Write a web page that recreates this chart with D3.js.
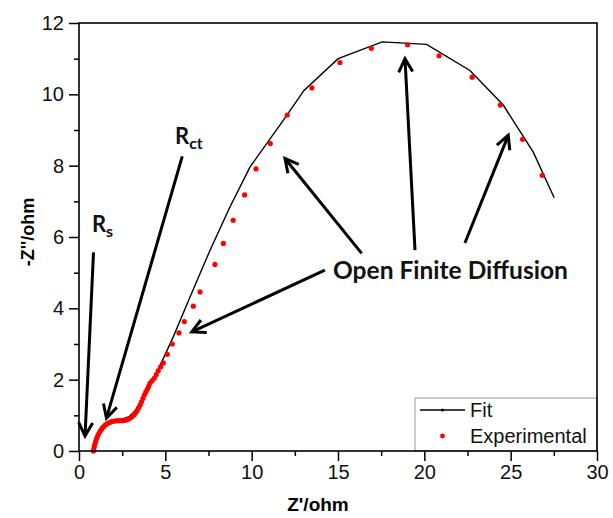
<!DOCTYPE html>
<html>
<head>
<meta charset="utf-8">
<script src="https://cdn.jsdelivr.net/npm/d3@7/dist/d3.min.js"></script>
<style>
  html, body { margin: 0; padding: 0; background: #fff; }
  svg { display: block; }
</style>
</head>
<body>
<svg id="chart" width="613" height="518"></svg>
<script>
// Nyquist plot: experimental impedance and equivalent-circuit fit

// Experimental data, Z' (ohm)
const expZre = [
  0.83, 0.86, 0.89, 0.93, 0.97, 1.02, 1.08, 1.15, 1.23, 1.32, 1.42, 1.53, 1.65, 1.78, 1.92,
  2.07, 2.22, 2.37, 2.52, 2.66, 2.80, 2.93, 3.05, 3.16, 3.26, 3.36, 3.45, 3.54, 3.62, 3.70,
  3.78, 3.87, 3.95, 4.03, 4.11, 4.23, 4.36, 4.47, 4.59, 4.73, 4.88, 5.11, 5.40, 5.79, 6.10,
  6.62, 7.01, 7.87, 8.36, 8.93, 9.59, 10.25, 11.08, 12.06, 13.49, 15.11, 16.93, 19.03, 20.85,
  22.77, 24.40, 25.69, 26.83
];
// Experimental data, -Z'' (ohm)
const expZim = [
  0.00, 0.07, 0.14, 0.21, 0.28, 0.35, 0.42, 0.49, 0.56, 0.62, 0.68, 0.73, 0.77, 0.80, 0.83,
  0.84, 0.85, 0.85, 0.85, 0.86, 0.88, 0.91, 0.95, 1.00, 1.06, 1.13, 1.21, 1.29, 1.38, 1.47,
  1.57, 1.65, 1.73, 1.81, 1.90, 1.97, 2.04, 2.14, 2.25, 2.36, 2.47, 2.71, 3.00, 3.31, 3.63,
  4.06, 4.46, 5.23, 5.82, 6.47, 7.18, 7.91, 8.62, 9.42, 10.18, 10.89, 11.29, 11.39, 11.08,
  10.48, 9.70, 8.74, 7.73
];

// Fitted model, Z' and -Z'' (ohm)
const fitZre = [
  0.85, 0.95, 1.10, 1.30, 1.55, 1.90, 2.40, 2.90, 3.30, 3.75, 4.20, 4.70, 5.46, 6.43, 7.59,
  8.74, 9.90, 11.83, 13.03, 15.01, 17.56, 20.13, 22.64, 24.57, 26.31, 27.52
];
const fitZim = [
  0.00, 0.25, 0.50, 0.68, 0.79, 0.86, 0.88, 0.96, 1.15, 1.50, 1.90, 2.40, 3.20, 4.32, 5.63,
  6.84, 7.96, 9.27, 10.11, 11.00, 11.47, 11.40, 10.67, 9.70, 8.38, 7.10
];

// Axis ticks
const xTicks = [0, 5, 10, 15, 20, 25, 30];
const xMinorTicks = [2.5, 7.5, 12.5, 17.5, 22.5, 27.5];
const yTicks = [0, 2, 4, 6, 8, 10, 12];
const yMinorTicks = [1, 3, 5, 7, 9, 11];

const xLabel = "Z'/ohm";
const yLabel = "-Z''/ohm";
const legendLabels = ["Fit", "Experimental"];

// Annotations in data units: [x0, y0, tipX, tipY]
const rsArrow = [0.84, 5.57, 0.35, 0.42];
const rctArrow = [5.98, 8.26, 1.59, 0.92];
const diffusionArrows = [
  [14.24, 5.07, 6.53, 3.34],
  [16.37, 5.54, 11.93, 8.20],
  [19.46, 5.63, 18.88, 11.00],
  [22.35, 5.83, 24.86, 8.85]
];
const rsLabelPos = [0.75, 6.14];
const rctLabelPos = [5.56, 8.60];
const diffusionLabelPos = [14.71, 4.81];
const diffusionLabel = "Open Finite Diffusion";

const svg = d3.select("#chart");
const margin = { left: 79, right: 16, top: 23, bottom: 67 };
const W = 613, H = 518;

const x = d3.scaleLinear().domain([0, 30]).range([margin.left, W - margin.right]);
const y = d3.scaleLinear().domain([0, 12]).range([H - margin.bottom, margin.top]);

const axisFont = "'Liberation Sans', Arial, sans-serif";
const annFont = "Lato, 'Open Sans', sans-serif";

// Axes
const gx = svg.append("g").attr("transform", `translate(0,${y(0)})`)
  .call(d3.axisBottom(x).tickValues(xTicks).tickSize(10).tickPadding(4).tickFormat(d3.format("d")));
const gxm = svg.append("g").attr("transform", `translate(0,${y(0)})`)
  .call(d3.axisBottom(x).tickValues(xMinorTicks).tickSize(5).tickFormat(""));
const gy = svg.append("g").attr("transform", `translate(${x(0)},0)`)
  .call(d3.axisLeft(y).tickValues(yTicks).tickSize(10).tickPadding(5).tickFormat(d3.format("d")));
const gym = svg.append("g").attr("transform", `translate(${x(0)},0)`)
  .call(d3.axisLeft(y).tickValues(yMinorTicks).tickSize(5).tickFormat(""));

[gx, gxm, gy, gym].forEach(g => {
  g.select(".domain").remove();
  g.selectAll("line").attr("stroke", "#000").attr("stroke-width", 1.5);
  g.selectAll("text").attr("fill", "#111").style("font-family", axisFont).style("font-size", "20px");
});

// Axis titles
svg.append("text")
  .attr("x", 318).attr("y", 511)
  .attr("text-anchor", "middle")
  .style("font-family", axisFont).style("font-size", "19px").style("font-weight", "bold")
  .text(xLabel);
svg.append("text")
  .attr("transform", `translate(34,${232}) rotate(-90)`)
  .attr("text-anchor", "middle")
  .style("font-family", axisFont).style("font-size", "18px").style("font-weight", "bold")
  .text(yLabel);

// Fit curve
const line = d3.line().x(d => x(d[0])).y(d => y(d[1]));
const fitPts = fitZre.map((v, i) => [v, fitZim[i]]);
svg.append("path")
  .datum(fitPts)
  .attr("d", line)
  .attr("fill", "none")
  .attr("stroke", "#000")
  .attr("stroke-width", 1.4);

// Experimental points
const expPts = expZre.map((v, i) => [v, expZim[i]]);
svg.append("g").selectAll("circle")
  .data(expPts)
  .join("circle")
  .attr("cx", d => x(d[0]))
  .attr("cy", d => y(d[1]))
  .attr("r", 2.6)
  .attr("fill", "#ff0000");

// Arrows with open V heads
function arrow(a) {
  const x0 = x(a[0]), y0 = y(a[1]), x1 = x(a[2]), y1 = y(a[3]);
  const ang = Math.atan2(y1 - y0, x1 - x0);
  const len = 15, spread = Math.PI / 6.5;
  const p1 = [x1 - len * Math.cos(ang - spread), y1 - len * Math.sin(ang - spread)];
  const p2 = [x1 - len * Math.cos(ang + spread), y1 - len * Math.sin(ang + spread)];
  const g = svg.append("g").attr("stroke", "#000").attr("fill", "none")
    .attr("stroke-width", 3).attr("stroke-linecap", "butt");
  g.append("line").attr("x1", x0).attr("y1", y0).attr("x2", x1).attr("y2", y1);
  g.append("path").attr("d", `M${p1[0]},${p1[1]}L${x1},${y1}L${p2[0]},${p2[1]}`)
    .attr("stroke-linejoin", "miter");
}
arrow(rsArrow);
arrow(rctArrow);
diffusionArrows.forEach(arrow);

// Annotation labels
function subLabel(pos, main, sub) {
  const t = svg.append("text")
    .attr("x", x(pos[0])).attr("y", y(pos[1]))
    .style("font-family", annFont).style("font-weight", "bold").attr("fill", "#111");
  t.append("tspan").style("font-size", "22px").text(main);
  t.append("tspan").style("font-size", "16px").attr("dy", 5).text(sub);
}
subLabel(rsLabelPos, "R", "s");
subLabel(rctLabelPos, "R", "ct");

const diff = svg.append("text")
  .attr("x", x(diffusionLabelPos[0])).attr("y", y(diffusionLabelPos[1]))
  .style("font-family", annFont).style("font-weight", "bold").attr("fill", "#111")
  .style("font-size", "20px")
  .text(diffusionLabel);
// size the label to span its annotation width
const targetW = 235;
const w0 = diff.node().getComputedTextLength();
diff.style("font-size", (20 * targetW / w0).toFixed(2) + "px");

// Legend
const lg = svg.append("g");
const lx0 = 415, ly0 = 398, lx1 = x(30), ly1 = y(0);
lg.append("rect").attr("x", lx0).attr("y", ly0).attr("width", lx1 - lx0).attr("height", ly1 - ly0)
  .attr("fill", "#fff").attr("stroke", "#999").attr("stroke-width", 1);
lg.append("line").attr("x1", lx0 + 5).attr("x2", lx0 + 50).attr("y1", ly0 + 12).attr("y2", ly0 + 12)
  .attr("stroke", "#000").attr("stroke-width", 1.4);
lg.append("circle").attr("cx", lx0 + 27.5).attr("cy", ly0 + 12).attr("r", 1.6).attr("fill", "#000");
lg.append("text").attr("x", lx0 + 55).attr("y", ly0 + 19)
  .style("font-family", axisFont).style("font-size", "20px").attr("fill", "#111").text(legendLabels[0]);
lg.append("circle").attr("cx", lx0 + 27.5).attr("cy", ly0 + 38).attr("r", 2.4).attr("fill", "#ff0000");
lg.append("text").attr("x", lx0 + 55).attr("y", ly0 + 45)
  .style("font-family", axisFont).style("font-size", "20px").attr("fill", "#111").text(legendLabels[1]);

// Plot frame
svg.append("rect")
  .attr("x", x(0)).attr("y", y(12))
  .attr("width", x(30) - x(0)).attr("height", y(0) - y(12))
  .attr("fill", "none").attr("stroke", "#000").attr("stroke-width", 1.6);
</script>
</body>
</html>
